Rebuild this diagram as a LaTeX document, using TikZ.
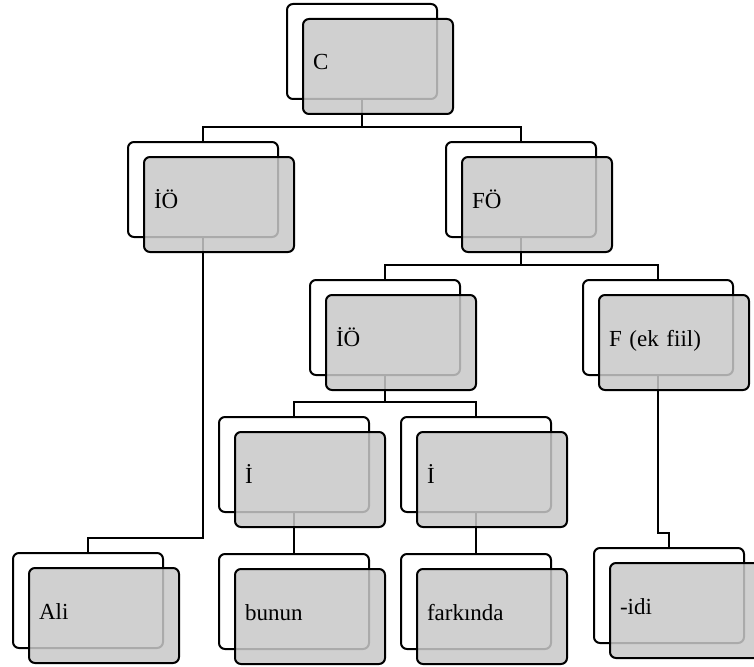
\documentclass[tikz,border=0pt]{standalone}
\usepackage{fontspec}
\setmainfont{Liberation Serif}
\usetikzlibrary{calc,backgrounds}
\definecolor{boxgray}{RGB}{200,200,200}

% back card and grey card on top of it
\newcommand{\twinbox}[4]{%
  \node[backbox] (#1-b) at (#2,#3) {};
  \node[frontbox] (#1) at ($(#1-b.north west)+(16,15)$) {#4};}

\begin{document}
\begin{tikzpicture}[x=1pt,y=-1pt,
  backbox/.style={draw,fill=white,line width=2pt,rounded corners=6pt,anchor=north west,
    minimum width=150pt,minimum height=95pt,inner sep=0pt},
  frontbox/.style={backbox,fill=boxgray,fill opacity=0.85,text opacity=1,text width=130pt,
    inner xsep=10pt,align=left,text height=0.85em,text depth=0.15em,font=\fontsize{23}{27}\selectfont},
  link/.style={line width=2pt}]
  \useasboundingbox (0,0) rectangle (754,666);
  \twinbox{c}{286}{3}{C}
  \twinbox{io}{127}{141}{İÖ}
  \twinbox{fo}{445}{141}{FÖ}
  \twinbox{io2}{309}{279}{İÖ}
  \twinbox{f}{582}{279}{F (ek fiil)}
  \twinbox{i1}{218}{416}{İ}
  \twinbox{i2}{400}{416}{İ}
  \twinbox{ali}{12}{552}{Ali}
  \twinbox{bunun}{218}{553}{bunun}
  \twinbox{farkinda}{400}{553}{farkında}
  \twinbox{idi}{593}{547}{-idi}
  \begin{pgfonlayer}{background}
    \foreach \p/\c in {c/io,c/fo,fo/io2,fo/f,io2/i1,io2/i2,io/ali,i1/bunun,i2/farkinda,f/idi}
      \draw[link] (\p-b.south) |- ($(\c-b.north)+(0,-14)$) -| (\c-b.north);
  \end{pgfonlayer}
\end{tikzpicture}
\end{document}
